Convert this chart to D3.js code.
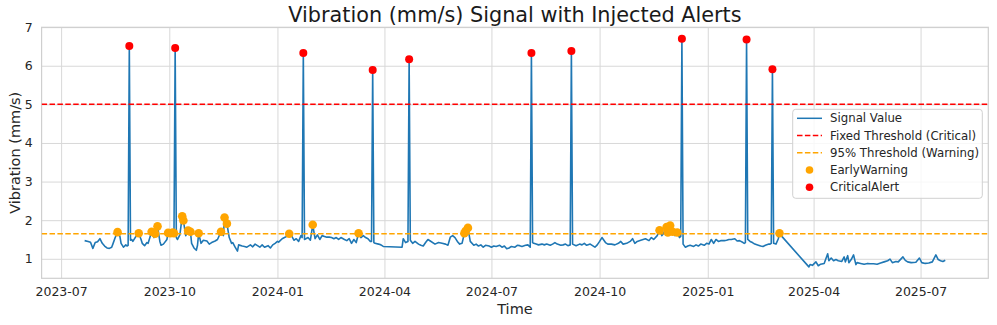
<!DOCTYPE html>
<html><head><meta charset="utf-8">
<script src="https://cdn.jsdelivr.net/npm/d3@7"></script>
<style>body{margin:0;background:#fff}svg{display:block}</style>
</head><body>
<svg id="chart" width="997" height="325"></svg>
<script>
const signalDates = [
"2023-07-21","2023-07-24","2023-07-26","2023-07-28","2023-07-30","2023-08-01","2023-08-03","2023-08-05","2023-08-07","2023-08-09",
"2023-08-11","2023-08-13","2023-08-14","2023-08-16","2023-08-18","2023-08-20","2023-08-21","2023-08-23","2023-08-25","2023-08-26",
"2023-08-27","2023-08-28","2023-08-29","2023-08-30","2023-08-31","2023-09-02","2023-09-05","2023-09-07","2023-09-08","2023-09-10",
"2023-09-12","2023-09-13","2023-09-16","2023-09-18","2023-09-19","2023-09-21","2023-09-23","2023-09-24","2023-09-26","2023-09-29",
"2023-09-30","2023-10-02","2023-10-04","2023-10-05","2023-10-06","2023-10-07","2023-10-08","2023-10-10","2023-10-12","2023-10-13",
"2023-10-15","2023-10-17","2023-10-19","2023-10-20","2023-10-22","2023-10-24","2023-10-25","2023-10-26","2023-10-28","2023-10-30",
"2023-11-02","2023-11-04","2023-11-06","2023-11-09","2023-11-11","2023-11-14","2023-11-16","2023-11-17","2023-11-19","2023-11-21",
"2023-11-23","2023-11-24","2023-11-26","2023-11-28","2023-11-29","2023-12-02","2023-12-04","2023-12-06","2023-12-09","2023-12-11",
"2023-12-13","2023-12-15","2023-12-17","2023-12-19","2023-12-21","2023-12-24","2023-12-26","2023-12-28","2023-12-30","2024-01-01",
"2024-01-02","2024-01-05","2024-01-07","2024-01-09","2024-01-11","2024-01-13","2024-01-15","2024-01-17","2024-01-19","2024-01-21",
"2024-01-22","2024-01-23","2024-01-24","2024-01-27","2024-01-29","2024-01-31","2024-02-02","2024-02-04","2024-02-06","2024-02-08",
"2024-02-10","2024-02-12","2024-02-14","2024-02-16","2024-02-18","2024-02-20","2024-02-22","2024-02-24","2024-02-27","2024-02-29",
"2024-03-02","2024-03-04","2024-03-06","2024-03-08","2024-03-10","2024-03-12","2024-03-14","2024-03-16","2024-03-18","2024-03-20",
"2024-03-21","2024-03-22","2024-03-23","2024-03-24","2024-03-27","2024-03-29","2024-03-31","2024-04-16","2024-04-17","2024-04-19",
"2024-04-21","2024-04-22","2024-04-23","2024-04-25","2024-04-27","2024-04-30","2024-05-02","2024-05-04","2024-05-06","2024-05-08",
"2024-05-10","2024-05-14","2024-05-17","2024-05-20","2024-05-23","2024-05-25","2024-05-27","2024-05-29","2024-05-31","2024-06-02",
"2024-06-04","2024-06-06","2024-06-08","2024-06-09","2024-06-11","2024-06-13","2024-06-16","2024-06-18","2024-06-20","2024-06-22",
"2024-06-24","2024-06-26","2024-06-29","2024-07-01","2024-07-03","2024-07-05","2024-07-08","2024-07-10","2024-07-12","2024-07-14",
"2024-07-16","2024-07-18","2024-07-21","2024-07-23","2024-07-25","2024-07-27","2024-07-30","2024-08-01","2024-08-03","2024-08-04",
"2024-08-05","2024-08-06","2024-08-08","2024-08-10","2024-08-13","2024-08-15","2024-08-17","2024-08-20","2024-08-22","2024-08-24",
"2024-08-26","2024-08-29","2024-08-31","2024-09-02","2024-09-04","2024-09-06","2024-09-07","2024-09-08","2024-09-11","2024-09-14",
"2024-09-16","2024-09-18","2024-09-20","2024-09-23","2024-09-25","2024-09-27","2024-09-29","2024-10-01","2024-10-03","2024-10-06",
"2024-10-08","2024-10-11","2024-10-14","2024-10-17","2024-10-19","2024-10-21","2024-10-24","2024-10-27","2024-10-29","2024-10-31",
"2024-11-02","2024-11-05","2024-11-07","2024-11-09","2024-11-12","2024-11-14","2024-11-16","2024-11-19","2024-11-21","2024-11-23",
"2024-11-24","2024-11-27","2024-11-28","2024-11-30","2024-12-02","2024-12-04","2024-12-06","2024-12-08","2024-12-09","2024-12-10",
"2024-12-11","2024-12-13","2024-12-15","2024-12-17","2024-12-20","2024-12-22","2024-12-24","2024-12-26","2024-12-29","2024-12-31",
"2025-01-02","2025-01-04","2025-01-06","2025-01-08","2025-01-10","2025-01-12","2025-01-15","2025-01-17","2025-01-19","2025-01-21",
"2025-01-24","2025-01-26","2025-01-28","2025-01-31","2025-02-01","2025-02-02","2025-02-03","2025-02-04","2025-02-06","2025-02-08",
"2025-02-10","2025-02-13","2025-02-15","2025-02-17","2025-02-19","2025-02-22","2025-02-23","2025-02-24","2025-02-25","2025-02-26",
"2025-02-28","2025-03-02","2025-03-03","2025-03-05","2025-03-28","2025-03-29","2025-03-31","2025-04-03","2025-04-05","2025-04-07",
"2025-04-10","2025-04-13","2025-04-14","2025-04-16","2025-04-18","2025-04-20","2025-04-22","2025-04-25","2025-04-27","2025-04-28",
"2025-04-30","2025-05-01","2025-05-03","2025-05-05","2025-05-07","2025-05-08","2025-05-11","2025-05-14","2025-05-17","2025-05-19",
"2025-05-22","2025-05-25","2025-05-28","2025-05-31","2025-06-03","2025-06-05","2025-06-07","2025-06-10","2025-06-12","2025-06-16",
"2025-06-18","2025-06-20","2025-06-23","2025-06-27","2025-06-30","2025-07-02","2025-07-05","2025-07-08","2025-07-11","2025-07-14",
"2025-07-16","2025-07-18","2025-07-20","2025-07-22"
];
const signalValues = [
1.47,1.45,1.43,1.27,1.42,1.44,1.52,1.40,1.33,1.28,
1.27,1.30,1.38,1.55,1.69,1.58,1.40,1.30,1.36,1.33,
1.35,6.51,1.48,1.50,1.45,1.55,1.66,1.50,1.40,1.34,
1.42,1.40,1.70,1.55,1.65,1.84,1.45,1.35,1.38,1.50,
1.67,1.66,1.68,1.66,6.46,1.55,1.50,1.62,2.10,1.99,
1.60,1.73,1.70,1.40,1.28,1.22,1.35,1.66,1.40,1.48,
1.46,1.38,1.42,1.46,1.50,1.70,1.60,2.07,1.91,1.55,
1.40,1.42,1.30,1.20,1.36,1.33,1.32,1.30,1.36,1.31,
1.38,1.34,1.30,1.36,1.30,1.34,1.28,1.36,1.40,1.45,
1.43,1.52,1.55,1.58,1.65,1.60,1.48,1.52,1.45,1.60,
1.55,6.33,1.50,1.55,1.48,1.88,1.52,1.62,1.50,1.60,
1.58,1.56,1.56,1.55,1.52,1.55,1.50,1.55,1.50,1.47,
1.52,1.40,1.50,1.42,1.66,1.55,1.60,1.55,1.52,1.45,
1.45,5.89,1.42,1.40,1.38,1.36,1.32,1.30,1.52,1.42,
1.45,6.17,1.48,1.40,1.45,1.38,1.35,1.33,1.42,1.50,
1.46,1.38,1.42,1.40,1.38,1.35,1.56,1.60,1.55,1.45,
1.38,1.40,1.66,1.72,1.80,1.45,1.35,1.38,1.33,1.36,
1.30,1.35,1.33,1.30,1.33,1.32,1.35,1.30,1.33,1.26,
1.28,1.32,1.30,1.35,1.34,1.32,1.35,1.36,1.30,6.33,
1.42,1.40,1.38,1.36,1.38,1.36,1.38,1.35,1.38,1.42,
1.38,1.35,1.36,1.38,1.34,1.36,6.38,1.38,1.34,1.38,
1.36,1.40,1.35,1.38,1.34,1.30,1.36,1.45,1.55,1.42,
1.38,1.38,1.36,1.40,1.45,1.38,1.40,1.45,1.52,1.40,
1.45,1.48,1.50,1.52,1.47,1.55,1.50,1.60,1.74,1.60,
1.64,1.82,1.68,1.86,1.70,1.60,1.68,1.55,1.58,6.70,
1.38,1.30,1.33,1.35,1.32,1.36,1.33,1.38,1.35,1.40,
1.38,1.50,1.40,1.50,1.45,1.47,1.47,1.48,1.50,1.50,
1.52,1.46,1.47,1.42,1.40,1.42,6.68,1.50,1.45,1.42,
1.38,1.35,1.33,1.32,1.35,1.38,1.38,1.40,5.91,1.40,
1.38,1.52,1.66,1.58,0.79,0.85,0.83,0.92,0.82,0.86,
0.88,1.13,0.95,1.02,0.95,0.98,0.95,0.93,1.05,0.92,
1.08,0.90,0.98,1.10,0.85,0.90,0.88,0.86,0.88,0.87,
0.87,0.86,0.89,0.92,0.95,0.99,0.90,0.93,0.92,1.05,
0.96,0.92,0.90,0.91,1.02,0.90,0.88,0.89,0.92,1.10,
0.98,0.95,0.93,0.96
];
const earlyDates = [
"2023-08-18","2023-09-05","2023-09-16","2023-09-19","2023-09-21","2023-09-30","2023-10-02","2023-10-04","2023-10-05","2023-10-12",
"2023-10-13","2023-10-17","2023-10-19","2023-10-26","2023-11-14","2023-11-17","2023-11-19","2024-01-11","2024-01-31","2024-03-10",
"2024-06-08","2024-06-09","2024-06-11","2024-11-21","2024-11-27","2024-11-28","2024-11-30","2024-12-02","2024-12-06","2025-03-03"
];
const earlyValues = [
1.69,1.66,1.70,1.65,1.84,1.67,1.66,1.68,1.66,2.10,
1.99,1.73,1.70,1.66,1.70,2.07,1.91,1.65,1.88,1.66,
1.66,1.72,1.80,1.74,1.82,1.68,1.86,1.70,1.68,1.66
];
const criticalDates = ["2023-08-28","2023-10-06","2024-01-23","2024-03-22","2024-04-22","2024-08-04","2024-09-07","2024-12-10","2025-02-03","2025-02-25"];
const criticalValues = [6.51,6.46,6.33,5.89,6.17,6.33,6.38,6.70,6.68,5.91];
const fixedThreshold = 5.0;
const warningThreshold = 1.65;
const yTickValues = [1,2,3,4,5,6,7];
const xTickLabels = ["2023-07","2023-10","2024-01","2024-04","2024-07","2024-10","2025-01","2025-04","2025-07"];
const legendLabels = ["Signal Value","Fixed Threshold (Critical)","95% Threshold (Warning)","EarlyWarning","CriticalAlert"];
const titleText = "Vibration (mm/s) Signal with Injected Alerts";
const xLabel = "Time", yLabel = "Vibration (mm/s)";

const parse = d3.timeParse("%Y-%m-%d");
const parseM = d3.timeParse("%Y-%m");
const signal = signalDates.map((d,i)=>({t:parse(d), v:signalValues[i]}));
const early = earlyDates.map((d,i)=>({t:parse(d), v:earlyValues[i]}));
const critical = criticalDates.map((d,i)=>({t:parse(d), v:criticalValues[i]}));

const L=41.6,R=988.3,T=27.3,B=278.3;
const svg=d3.select("#chart");
const font="DejaVu Sans, sans-serif";
const txt="#262626";

const tExt=d3.extent(signal,d=>d.t);
const tPad=(tExt[1]-tExt[0])*0.05;
const x=d3.scaleTime().domain([new Date(+tExt[0]-tPad), new Date(+tExt[1]+tPad)]).range([L,R]);
const vExt=d3.extent(signal,d=>d.v);
const vPad=(vExt[1]-vExt[0])*0.05;
const y=d3.scaleLinear().domain([vExt[0]-vPad, vExt[1]+vPad]).range([B,T]);

const xTicks=xTickLabels.map(s=>parseM(s));

const g=svg.append("g");
const xAxis=g.append("g").attr("transform",`translate(0,${B})`)
  .call(d3.axisBottom(x).tickValues(xTicks).tickFormat(d3.timeFormat("%Y-%m")).tickSize(-(B-T)).tickPadding(9));
xAxis.select(".domain").remove();
xAxis.selectAll(".tick line").attr("stroke","#d8d8d8").attr("stroke-width",1);
xAxis.selectAll(".tick text").attr("font-family",font).attr("font-size",12.5).attr("fill",txt);
const yAxis=g.append("g").attr("transform",`translate(${L},0)`)
  .call(d3.axisLeft(y).tickValues(yTickValues).tickFormat(d3.format("d")).tickSize(-(R-L)).tickPadding(9));
yAxis.select(".domain").remove();
yAxis.selectAll(".tick line").attr("stroke","#d8d8d8").attr("stroke-width",1);
yAxis.selectAll(".tick text").attr("font-family",font).attr("font-size",12.5).attr("fill",txt);

g.append("rect").attr("x",L).attr("y",T).attr("width",R-L).attr("height",B-T)
  .attr("fill","none").attr("stroke","#cfcfcf").attr("stroke-width",1.2);

svg.append("defs").append("clipPath").attr("id","clip").append("rect")
  .attr("x",L).attr("y",T).attr("width",R-L).attr("height",B-T);
const plot=svg.append("g").attr("clip-path","url(#clip)");

plot.append("path").datum(signal)
  .attr("d",d3.line().x(d=>x(d.t)).y(d=>y(d.v)))
  .attr("fill","none").attr("stroke","#1f77b4").attr("stroke-width",1.6).attr("stroke-linejoin","round");

plot.append("line").attr("x1",L).attr("x2",R).attr("y1",y(fixedThreshold)).attr("y2",y(fixedThreshold))
  .attr("stroke","#ff0000").attr("stroke-width",1.5).attr("stroke-dasharray","5.5,2.4");
plot.append("line").attr("x1",L).attr("x2",R).attr("y1",y(warningThreshold)).attr("y2",y(warningThreshold))
  .attr("stroke","#ffa500").attr("stroke-width",1.5).attr("stroke-dasharray","5.5,2.4");

plot.selectAll("circle.ew").data(early).join("circle").attr("class","ew")
  .attr("cx",d=>x(d.t)).attr("cy",d=>y(d.v)).attr("r",4.3).attr("fill","#ffa500");
plot.selectAll("circle.cr").data(critical).join("circle").attr("class","cr")
  .attr("cx",d=>x(d.t)).attr("cy",d=>y(d.v)).attr("r",4).attr("fill","#ff0000");

svg.append("text").attr("x",(L+R)/2).attr("y",22).attr("text-anchor","middle")
  .attr("font-family",font).attr("font-size",20.8).attr("fill","#1a1a1a").text(titleText);
svg.append("text").attr("x",(L+R)/2).attr("y",313.5).attr("text-anchor","middle")
  .attr("font-family",font).attr("font-size",14.5).attr("fill",txt).text(xLabel);
svg.append("text").attr("transform",`translate(20,${(T+B)/2}) rotate(-90)`).attr("text-anchor","middle")
  .attr("font-family",font).attr("font-size",14.5).attr("fill",txt).text(yLabel);

const lg=svg.append("g");
lg.append("rect").attr("x",792.7).attr("y",109.3).attr("width",189.6).attr("height",89)
  .attr("rx",3).attr("fill","#fff").attr("fill-opacity",0.8).attr("stroke","#d0d0d0").attr("stroke-width",1);
const rowY=i=>118.3+i*17.25;
const handles=[
  {type:"line",color:"#1f77b4",dash:null},
  {type:"line",color:"#ff0000",dash:"5.5,2.4"},
  {type:"line",color:"#ffa500",dash:"5.5,2.4"},
  {type:"dot",color:"#ffa500"},
  {type:"dot",color:"#ff0000"}
];
legendLabels.forEach((lab,i)=>{
  const h=handles[i];
  if(h.type==="line"){
    lg.append("line").attr("x1",797).attr("x2",822).attr("y1",rowY(i)).attr("y2",rowY(i))
      .attr("stroke",h.color).attr("stroke-width",1.5).attr("stroke-dasharray",h.dash);
  } else {
    lg.append("circle").attr("cx",809.5).attr("cy",rowY(i)).attr("r",3.8).attr("fill",h.color);
  }
  lg.append("text").attr("x",830).attr("y",rowY(i)).attr("dy","0.35em")
    .attr("font-family",font).attr("font-size",11.75).attr("fill",txt).text(lab);
});
</script>
</body></html>
